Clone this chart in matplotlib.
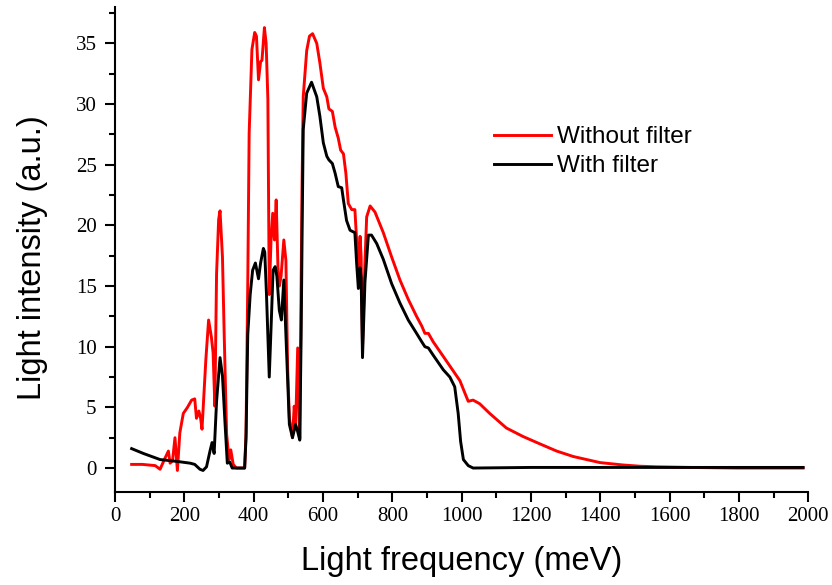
import matplotlib
matplotlib.use("Agg")
import matplotlib.pyplot as plt
from matplotlib.ticker import MultipleLocator

# Spectrum without the filter (energy in meV, intensity in a.u.)
freq_without = [48, 79, 116, 130, 144, 154, 159, 166, 173, 180, 187, 197, 209, 221,
                230, 235, 242, 247, 251, 262, 270, 278, 283, 288, 293, 299, 303, 310,
                315, 322, 329, 334, 341, 350, 374, 378, 383, 387, 395, 403, 408, 414,
                420, 424, 431, 436, 441, 445, 450, 455, 460, 465, 470, 474, 479, 487,
                493, 498, 503, 512, 517, 521, 527, 533, 536, 539, 543, 553, 561, 570,
                582, 591, 601, 611, 617, 627, 635, 644, 651, 659, 666, 673, 683, 692,
                697, 702, 707, 710, 714, 721, 726, 736, 750, 774, 798, 822, 846, 870,
                885, 894, 904, 918, 947, 971, 995, 1009, 1019, 1033, 1052, 1081, 1129,
                1177, 1225, 1274, 1322, 1399, 1466, 1514, 1562, 1658, 1793, 1985]
int_without = [0.3, 0.3, 0.2, -0.1, 0.8, 1.4, 0.4, 0.6, 2.5, -0.2, 2.9, 4.5, 5.0, 5.6,
               5.7, 4.1, 4.7, 4.1, 3.2, 8.9, 12.2, 10.8, 9.5, 5.1, 16.0, 20.5, 21.2, 17.4,
               11.0, 2.8, 0.7, 1.5, 0.3, 0.0, 0.0, 2.9, 15.2, 27.6, 34.5, 35.9, 35.6, 32.0,
               33.5, 33.6, 36.3, 35.0, 30.4, 14.3, 18.7, 21.0, 18.8, 22.1, 16.6, 15.0, 15.8, 18.8,
               17.1, 8.3, 4.1, 2.5, 5.1, 3.3, 9.9, 2.4, 12.0, 22.0, 30.6, 34.4, 35.6, 35.8,
               35.0, 33.4, 31.3, 30.6, 29.6, 29.4, 28.1, 27.2, 26.2, 25.9, 24.3, 21.8, 21.3, 21.3,
               18.8, 16.3, 19.1, 17.4, 10.0, 16.9, 20.7, 21.6, 21.1, 19.4, 17.4, 15.5, 13.9, 12.5,
               11.7, 11.1, 11.1, 10.4, 9.2, 8.2, 7.2, 6.2, 5.5, 5.6, 5.3, 4.5, 3.3,
               2.6, 2.0, 1.4, 0.95, 0.45, 0.25, 0.15, 0.1, 0.05, 0.0, 0.0]

# Spectrum with the filter
freq_with = [48, 82, 130, 178, 217, 230, 245, 254, 264, 274, 280, 286, 293, 303, 310,
             317, 324, 331, 338, 374, 378, 383, 390, 397, 405, 414, 420, 428, 432, 437,
             445, 451, 456, 462, 467, 474, 480, 487, 493, 503, 512, 521, 527, 533, 537,
             540, 543, 553, 567, 582, 591, 601, 611, 617, 627, 635, 644, 654, 659, 668,
             678, 692, 697, 702, 707, 710, 714, 721, 731, 740, 755, 774, 798, 822, 846,
             870, 885, 894, 904, 918, 947, 966, 980, 990, 997, 1005, 1019, 1033, 1200,
             1400, 1600, 1985]
int_with = [1.6, 1.2, 0.7, 0.55, 0.4, 0.3, -0.1, -0.2, 0.1, 1.4, 2.1, 1.2, 5.5, 9.1, 7.6,
            3.9, 0.4, 0.5, 0.0, 0.0, 2.5, 11.0, 14.3, 16.3, 16.9, 15.6, 16.9, 18.1, 17.8, 14.3,
            7.5, 12.2, 16.3, 16.6, 15.8, 13.0, 12.2, 15.5, 11.0, 3.6, 2.5, 3.6, 3.0, 2.3, 11.0,
            20.0, 27.9, 30.9, 31.8, 30.6, 29.0, 26.8, 25.7, 25.4, 25.1, 24.3, 23.2, 23.1, 22.1, 20.4,
            19.6, 19.4, 16.9, 14.8, 16.5, 15.7, 9.1, 15.3, 19.2, 19.2, 18.5, 17.2, 15.2, 13.6, 12.2,
            11.1, 10.4, 10.0, 9.9, 9.3, 8.1, 7.5, 6.7, 4.5, 2.2, 0.7, 0.2, 0.0, 0.05,
            0.05, 0.05, 0.05]

series_labels = ["Without filter", "With filter"]
x_title = "Light frequency (meV)"
y_title = "Light intensity (a.u.)"

fig = plt.figure(figsize=(8.32, 5.85), dpi=100)
ax = fig.add_axes([115 / 832, 1 - 491.7 / 585, 693.3 / 832, 484.7 / 585])

ax.plot(freq_without, int_without, color="#ff0000", lw=2.1, label=series_labels[0])
ax.plot(freq_with, int_with, color="black", lw=2.1, label=series_labels[1])

ax.set_xlim(0, 2000)
ax.set_ylim(-1.95, 38)

ax.xaxis.set_major_locator(MultipleLocator(200))
ax.xaxis.set_minor_locator(MultipleLocator(100))
ax.yaxis.set_major_locator(MultipleLocator(5))
ax.yaxis.set_minor_locator(MultipleLocator(2.5))

for side in ("top", "right"):
    ax.spines[side].set_visible(False)
for side in ("left", "bottom"):
    ax.spines[side].set_linewidth(1.5)

ax.tick_params(which="major", direction="out", length=7.2, width=1.5)
ax.tick_params(which="minor", direction="out", length=4.3, width=1.5)
ax.tick_params(axis="x", which="major", pad=3.8)
ax.tick_params(axis="y", which="major", pad=6)
for lbl in ax.get_xticklabels() + ax.get_yticklabels():
    lbl.set_fontfamily("Liberation Serif")
    lbl.set_fontsize(15)

ax.set_xlabel(x_title, fontsize=23.5, family="Liberation Sans")
ax.set_ylabel(y_title, fontsize=23.5, family="Liberation Sans")
ax.xaxis.set_label_coords(0.5, -0.111)
ax.yaxis.set_label_coords(-0.0966, 0.483)

leg = ax.legend(loc="upper left", bbox_to_anchor=(494 / 832, 1 - 126.4 / 585),
                bbox_transform=fig.transFigure, frameon=False, borderpad=0,
                borderaxespad=0, handlelength=2.33, handletextpad=0.27,
                labelspacing=0.28, prop={"family": "Liberation Sans", "size": 17.5})

fig.savefig("out.png", dpi=100)
